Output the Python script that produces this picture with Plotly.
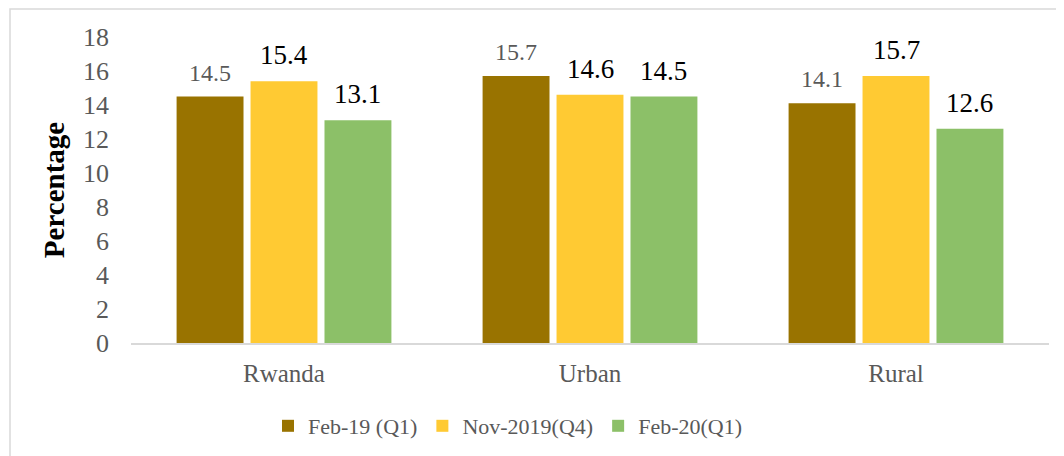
import plotly.graph_objects as go

categories = ["Rwanda", "Urban", "Rural"]
series_names = ["Feb-19 (Q1)", "Nov-2019(Q4)", "Feb-20(Q1)"]
feb19 = [14.5, 15.7, 14.1]
nov19 = [15.4, 14.6, 15.7]
feb20 = [13.1, 14.5, 12.6]
colors = ["#997300", "#FFCA33", "#8CC068"]
label_colors = ["#595959", "#000000", "#000000"]
label_sizes = [24, 27, 27]
y_ticks = list(range(0, 19, 2))

FONT = "Liberation Serif"
OFF = 8  # default body margin of the html page
W, H = 1064 - OFF, 456 - OFF
ml, mr, mt, mb = 131 - OFF, 15, 37 - OFF, 113
BARGAP = 0.275
n_series = 3

fig = go.Figure()
all_vals = [feb19, nov19, feb20]
for name, vals, col in zip(series_names, all_vals, colors):
    fig.add_trace(go.Bar(
        x=categories, y=vals, name=name,
        marker=dict(color=col, line=dict(width=0)),
        hoverinfo="x+y+name",
    ))

# data labels above each bar
slot = (1 - BARGAP) / n_series
for si, (vals, lc, ls) in enumerate(zip(all_vals, label_colors, label_sizes)):
    for ci, v in enumerate(vals):
        fig.add_annotation(
            x=ci + (si - (n_series - 1) / 2) * slot, y=v, xref="x", yref="y",
            text=f"{v:.1f}", showarrow=False, yanchor="bottom", yshift=9,
            font=dict(family=FONT, size=ls, color=lc),
        )

pw = W - ml - mr
ph = H - mt - mb
fig.add_shape(type="rect", xref="paper", yref="paper",
              x0=(2 - ml) / pw, x1=1 + (mr + 20) / pw,
              y0=-(mb + 20) / ph, y1=1 + (mt - 1) / ph,
              line=dict(color="#D9D9D9", width=1.5), layer="below")

legend_center_px = 508 - OFF
fig.update_layout(
    width=W, height=H,
    margin=dict(l=ml, r=mr, t=mt, b=mb, autoexpand=False),
    paper_bgcolor="white", plot_bgcolor="white",
    barmode="group", bargap=BARGAP, bargroupgap=0.095,
    font=dict(family=FONT, color="#595959"),
    showlegend=True,
    legend=dict(orientation="h", x=(legend_center_px - ml) / pw, xanchor="center",
                y=-(426 - OFF - (H - mb)) / ph, yanchor="middle",
                font=dict(family=FONT, size=22, color="#595959"),
                itemwidth=30, traceorder="normal"),
    yaxis=dict(range=[0, 18], tickvals=y_ticks, showgrid=False, zeroline=False,
               showline=False, ticks="", tickfont=dict(size=26, color="#595959"),
               ticklabelstandoff=21,
               title=dict(text="<b>Percentage</b>", font=dict(size=29, color="#000000"), standoff=9)),
    xaxis=dict(showline=True, linecolor="#D9D9D9", linewidth=2, ticks="",
               tickfont=dict(size=25, color="#595959"), showgrid=False,
               ticklabelstandoff=7),
)

fig.write_html("out.html")
